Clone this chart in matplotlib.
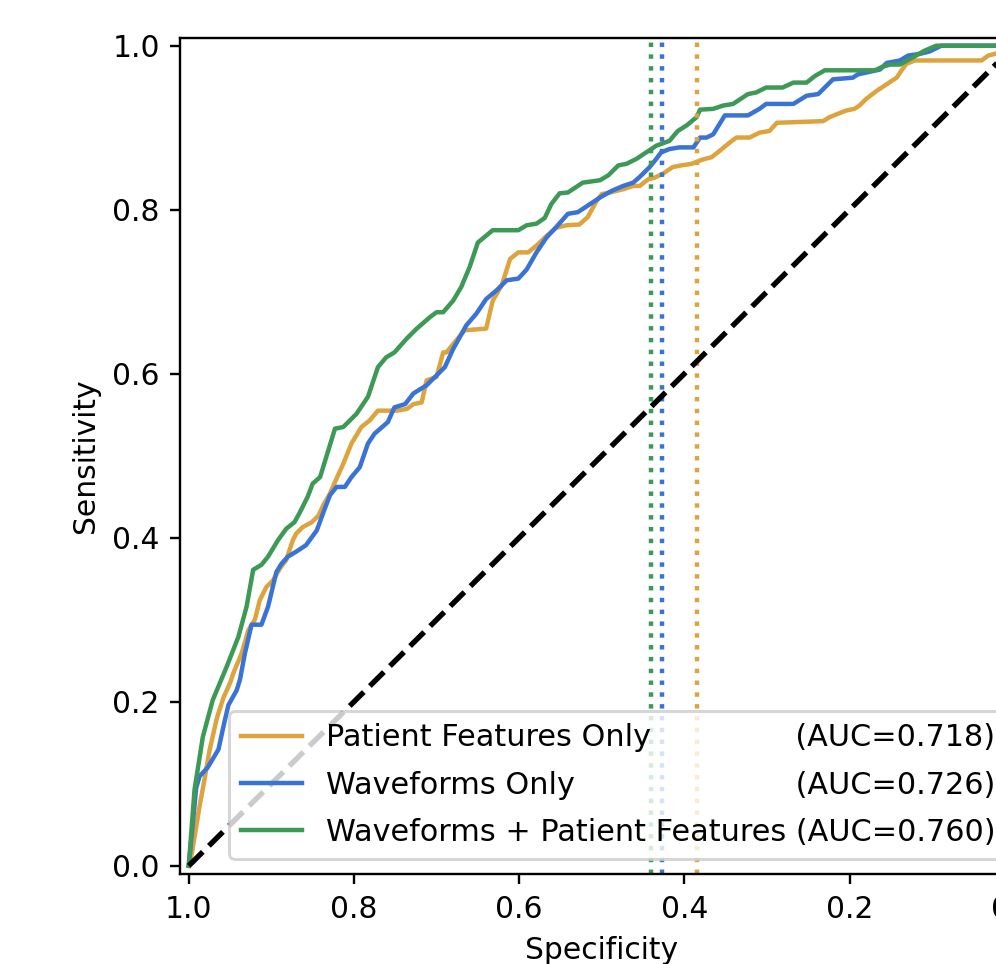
import matplotlib
matplotlib.use("Agg")
import matplotlib.pyplot as plt
from matplotlib.font_manager import FontProperties

# ---- data (specificity, sensitivity) ----
pf_spec = [1.0, 0.997, 0.993, 0.987, 0.981, 0.975, 0.966, 0.958, 0.950, 0.946, 0.936, 0.928, 0.920,
           0.914, 0.906, 0.898, 0.890, 0.882, 0.874, 0.870, 0.862, 0.851, 0.843, 0.837, 0.829, 0.823,
           0.813, 0.803, 0.791, 0.781, 0.771, 0.749, 0.736, 0.728, 0.718, 0.712, 0.700, 0.692, 0.688,
           0.680, 0.666, 0.640, 0.632, 0.621, 0.611, 0.601, 0.589, 0.577, 0.567, 0.555, 0.543, 0.527,
           0.517, 0.506, 0.500, 0.490, 0.474, 0.462, 0.454, 0.444, 0.436, 0.426, 0.414, 0.404, 0.391,
           0.381, 0.375, 0.367, 0.357, 0.345, 0.337, 0.321, 0.309, 0.297, 0.288, 0.232, 0.224, 0.214,
           0.204, 0.194, 0.188, 0.180, 0.167, 0.155, 0.143, 0.137, 0.131, 0.121, 0.040, 0.032, 0.024, 0.0]
pf_sens = [0.0, 0.011, 0.035, 0.072, 0.105, 0.140, 0.180, 0.205, 0.223, 0.235, 0.259, 0.287, 0.300,
           0.324, 0.340, 0.348, 0.362, 0.373, 0.397, 0.405, 0.413, 0.419, 0.427, 0.440, 0.454, 0.468,
           0.490, 0.515, 0.535, 0.543, 0.555, 0.555, 0.557, 0.563, 0.565, 0.592, 0.596, 0.626, 0.626,
           0.636, 0.653, 0.655, 0.689, 0.708, 0.740, 0.748, 0.748, 0.758, 0.768, 0.778, 0.781, 0.782,
           0.791, 0.811, 0.819, 0.821, 0.825, 0.829, 0.829, 0.837, 0.839, 0.844, 0.852, 0.854, 0.856,
           0.860, 0.862, 0.864, 0.872, 0.882, 0.888, 0.888, 0.894, 0.896, 0.906, 0.908, 0.913, 0.917,
           0.921, 0.923, 0.927, 0.935, 0.945, 0.953, 0.961, 0.970, 0.978, 0.982, 0.982, 0.988, 0.990, 1.0]

wf_spec = [1.0, 0.991, 0.987, 0.977, 0.964, 0.958, 0.952, 0.942, 0.938, 0.932, 0.924, 0.912, 0.904,
           0.894, 0.888, 0.880, 0.870, 0.858, 0.845, 0.837, 0.829, 0.821, 0.811, 0.803, 0.793, 0.783,
           0.775, 0.759, 0.751, 0.738, 0.728, 0.712, 0.700, 0.690, 0.680, 0.664, 0.652, 0.640, 0.627,
           0.615, 0.601, 0.591, 0.579, 0.567, 0.555, 0.541, 0.529, 0.517, 0.502, 0.488, 0.474, 0.462,
           0.454, 0.442, 0.434, 0.428, 0.418, 0.406, 0.389, 0.381, 0.373, 0.365, 0.351, 0.323, 0.309,
           0.301, 0.268, 0.252, 0.238, 0.228, 0.220, 0.196, 0.190, 0.163, 0.155, 0.139, 0.129, 0.115,
           0.103, 0.089, 0.0]
wf_sens = [0.0, 0.095, 0.109, 0.120, 0.142, 0.170, 0.196, 0.214, 0.227, 0.259, 0.294, 0.294, 0.316,
           0.358, 0.368, 0.377, 0.383, 0.391, 0.409, 0.431, 0.452, 0.462, 0.462, 0.474, 0.486, 0.515,
           0.527, 0.541, 0.559, 0.563, 0.576, 0.586, 0.598, 0.608, 0.630, 0.659, 0.673, 0.691, 0.702,
           0.714, 0.716, 0.727, 0.748, 0.766, 0.779, 0.795, 0.797, 0.805, 0.815, 0.823, 0.829, 0.833,
           0.840, 0.852, 0.862, 0.870, 0.874, 0.876, 0.876, 0.888, 0.888, 0.892, 0.915, 0.915, 0.923,
           0.929, 0.929, 0.939, 0.941, 0.951, 0.959, 0.961, 0.965, 0.971, 0.979, 0.982, 0.988, 0.990,
           0.993, 1.0, 1.0]

wpf_spec = [1.0, 0.993, 0.983, 0.971, 0.954, 0.940, 0.930, 0.922, 0.912, 0.904, 0.892, 0.882, 0.872,
            0.866, 0.856, 0.850, 0.841, 0.823, 0.813, 0.797, 0.783, 0.771, 0.761, 0.751, 0.736, 0.724,
            0.708, 0.700, 0.692, 0.680, 0.670, 0.660, 0.650, 0.632, 0.601, 0.591, 0.579, 0.569, 0.561,
            0.551, 0.541, 0.523, 0.502, 0.492, 0.480, 0.470, 0.458, 0.446, 0.434, 0.426, 0.418, 0.408,
            0.397, 0.385, 0.381, 0.365, 0.353, 0.341, 0.323, 0.313, 0.301, 0.281, 0.268, 0.252, 0.242,
            0.230, 0.169, 0.161, 0.151, 0.139, 0.123, 0.109, 0.095, 0.0]
wpf_sens = [0.0, 0.093, 0.157, 0.202, 0.243, 0.279, 0.316, 0.361, 0.367, 0.377, 0.397, 0.411, 0.419,
            0.430, 0.450, 0.466, 0.474, 0.533, 0.535, 0.551, 0.572, 0.608, 0.620, 0.626, 0.643, 0.655,
            0.669, 0.675, 0.675, 0.689, 0.706, 0.730, 0.760, 0.775, 0.775, 0.781, 0.783, 0.790, 0.807,
            0.820, 0.821, 0.833, 0.836, 0.842, 0.854, 0.856, 0.862, 0.870, 0.878, 0.881, 0.884, 0.896,
            0.903, 0.913, 0.922, 0.923, 0.927, 0.929, 0.941, 0.943, 0.949, 0.949, 0.955, 0.955, 0.963,
            0.970, 0.970, 0.974, 0.977, 0.977, 0.986, 0.994, 1.0, 1.0]

names = ["Patient Features Only", "Waveforms Only", "Waveforms + Patient Features"]
aucs = [0.718, 0.726, 0.760]
thresholds_spec = [0.385, 0.4274, 0.4407]
colors = ["#DDA43E", "#3A73D6", "#3D9A56"]

DPI = 214
LEG_FS = 10.2
fig = plt.figure(figsize=(997 / DPI, 964 / DPI), dpi=DPI)
ax = fig.add_axes([180.5 / 997, 90 / 964, 842.5 / 997, 836.5 / 964])

curves = [(pf_spec, pf_sens), (wf_spec, wf_sens), (wpf_spec, wpf_sens)]

# build aligned legend labels
renderer = fig.canvas.get_renderer()
prop = FontProperties(size=LEG_FS)


def tw(s):
    w, h, d = renderer.get_text_width_height_descent(s, prop, ismath=False)
    return w


auc_txt = [f"(AUC={a:.3f})" for a in aucs]
longest = max(range(3), key=lambda i: tw(names[i]))
target = tw(names[longest] + " " + auc_txt[longest])
labels = []
for n, a in zip(names, auc_txt):
    pad = " "
    while tw(n + pad + " " + a) <= target:
        pad += " "
    while tw(n + pad + "\u200a" + a) <= target + 0.5:
        pad += "\u200a"
    labels.append(n + pad + a)

for (xs, ys), c, lab in zip(curves, colors, labels):
    ax.plot(xs, ys, color=c, lw=1.5, label=lab)

for t, c in zip(thresholds_spec, colors):
    ax.axvline(t, color=c, ls=":", lw=1.5)

ax.plot([1, 0], [0, 1], "k--", lw=1.8)

ax.set_xlim(1.01, -0.01)
ax.set_ylim(-0.01, 1.01)
ax.set_xlabel("Specificity")
ax.set_ylabel("Sensitivity")
ax.legend(loc="lower right", fontsize=LEG_FS, labelspacing=0.6)

fig.savefig("out.png", dpi=DPI)
